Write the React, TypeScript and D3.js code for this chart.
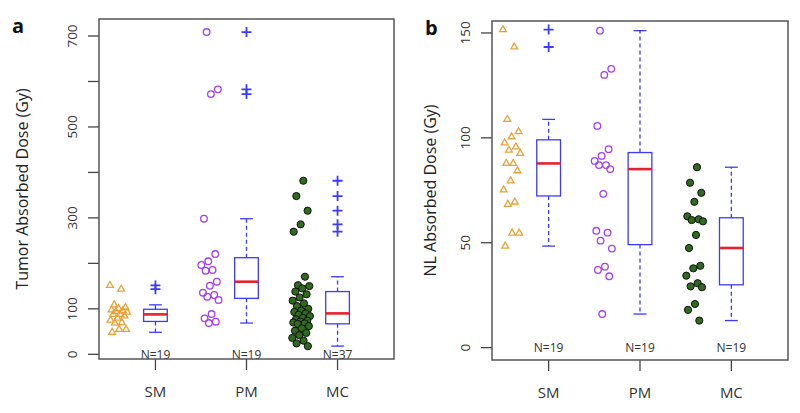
import React from 'react';
import * as d3 from 'd3';

const categories = ['SM', 'PM', 'MC'];

// panel a: tumor absorbed dose (Gy)
const tumorSM = [151.6, 143.3, 108.8, 102.9, 100.5, 97.6, 95.7, 94.1, 92.6, 87.8, 87.8, 84.3, 79.5, 75.2, 69.4, 68.3, 54.6, 54.6, 48.4];
const tumorPM = [708.7, 582.7, 572.3, 298.2, 220.5, 204.5, 196.4, 185.4, 183.9, 159.7, 150.8, 135.5, 130.4, 126.7, 119.4, 88.6, 79.1, 71.7, 68.8];
const tumorMC = [381.7, 348, 315.8, 285.8, 269.6, 170.6, 152, 150, 145, 138, 132, 125, 118, 112, 106, 100, 96, 93, 90, 87, 84, 80, 77, 74, 72, 70, 68, 67, 62, 57, 52, 47, 42, 36, 30, 24, 18];

// panel b: normal liver absorbed dose (Gy)
const nlSM = [151.6, 143.3, 108.8, 102.9, 100.5, 97.6, 95.7, 94.1, 92.6, 87.8, 87.8, 84.3, 79.5, 75.2, 69.4, 68.3, 54.6, 54.6, 48.4];
const nlPM = [151.1, 132.9, 130.0, 105.7, 94.6, 91.4, 89.0, 87.0, 87.0, 85.1, 73.3, 55.7, 54.8, 51.0, 47.2, 38.6, 37.0, 34.0, 16.0];
const nlMC = [86.0, 78.6, 73.8, 69.5, 62.6, 61.2, 60.8, 60.2, 53.7, 47.5, 39.0, 37.8, 34.3, 30.7, 29.2, 28.8, 20.8, 18.0, 12.9];

const tumorTicks = [0, 100, 200, 300, 400, 500, 600, 700];
const tumorTickLabels = [0, 100, 300, 500, 700];
const nlTicks = [0, 50, 100, 150];
const nlTickLabels = [0, 50, 100, 150];

const FONT = "'Open Sans', 'DejaVu Sans', sans-serif";
const BLUE = '#3b3bff';
const RED = '#e8212a';
const ORANGE = '#e8a23a';
const PURPLE = '#a43cf5';
const GREEN = '#2f6a1e';

// Tukey five-number summary, same as R's fivenum()
function fivenum(values: number[]) {
  const s = values.slice().sort((a, b) => a - b);
  const n = s.length;
  const n4 = Math.floor((n + 3) / 2) / 2;
  const d = [1, n4, (n + 1) / 2, n + 1 - n4, n];
  return d.map(i => 0.5 * (s[Math.floor(i) - 1] + s[Math.ceil(i) - 1]));
}

function boxStats(values: number[]) {
  const [, q1, med, q3] = fivenum(values);
  const iqr = q3 - q1;
  const lo = q1 - 1.5 * iqr;
  const hi = q3 + 1.5 * iqr;
  const inside = values.filter(v => v >= lo && v <= hi);
  return {
    q1, med, q3,
    wLo: d3.min(inside) as number,
    wHi: d3.max(inside) as number,
    out: values.filter(v => v < lo || v > hi),
  };
}

type PanelProps = {
  letter: string;
  letterX: number;
  title: string;
  titleX: number;
  groups: number[][];
  ticks: number[];
  tickLabels: number[];
  domain: [number, number];
  left: number;
  top: number;
  right: number;
  bottom: number;
};

const shapes = ['triangle', 'open', 'filled'];

function Panel({ letter, letterX, title, titleX, groups, ticks, tickLabels, domain, left, top, right, bottom }: PanelProps) {
  const x = d3.scaleLinear().domain([0.38, 3.62]).range([left, right]);
  const y = d3.scaleLinear().domain(domain).range([bottom, top]);
  const boxW = 0.13;
  const capW = 0.07;
  const tri = d3.symbol(d3.symbolTriangle, 20)() as string;

  return (
    <g>
      <text x={letterX} y={top + 14} fontFamily={FONT} fontWeight="bold" fontSize={20} fill="#111">{letter}</text>

      {groups.map((vals, gi) => {
        const c = gi + 1;
        const st = boxStats(vals);
        const cx = x(c);
        return (
          <g key={gi}>
            {/* jittered raw points */}
            {vals.map((v, i) => {
              const jit = (((i * 0.618034 + gi * 0.31) % 1) - 0.5) * 0.2;
              const px = x(c - 0.4 + jit);
              const py = y(v);
              if (shapes[gi] === 'triangle') {
                return <path key={i} d={tri} transform={`translate(${px},${py})`} fill="none" stroke={ORANGE} strokeWidth={1.3} />;
              }
              if (shapes[gi] === 'open') {
                return <circle key={i} cx={px} cy={py} r={3.3} fill="none" stroke={PURPLE} strokeWidth={1.3} />;
              }
              return <circle key={i} cx={px} cy={py} r={3.6} fill={GREEN} stroke="#111" strokeWidth={1} />;
            })}

            {/* whiskers */}
            <line x1={cx} x2={cx} y1={y(st.q3)} y2={y(st.wHi)} stroke={BLUE} strokeWidth={1.3} strokeDasharray="4,3" />
            <line x1={cx} x2={cx} y1={y(st.q1)} y2={y(st.wLo)} stroke={BLUE} strokeWidth={1.3} strokeDasharray="4,3" />
            <line x1={x(c - capW)} x2={x(c + capW)} y1={y(st.wHi)} y2={y(st.wHi)} stroke={BLUE} strokeWidth={1.3} />
            <line x1={x(c - capW)} x2={x(c + capW)} y1={y(st.wLo)} y2={y(st.wLo)} stroke={BLUE} strokeWidth={1.3} />

            {/* box */}
            <rect x={x(c - boxW)} y={y(st.q3)} width={x(c + boxW) - x(c - boxW)} height={y(st.q1) - y(st.q3)} fill="none" stroke={BLUE} strokeWidth={1.3} />
            <line x1={x(c - boxW)} x2={x(c + boxW)} y1={y(st.med)} y2={y(st.med)} stroke={RED} strokeWidth={2.6} />

            {/* outliers */}
            {st.out.map((v, i) => (
              <path key={i} d="M-5,0H5M0,-5V5" transform={`translate(${cx},${y(v)})`} stroke={BLUE} strokeWidth={1.8} />
            ))}

            <text x={cx} y={y(0)} dy="0.35em" textAnchor="middle" fontFamily={FONT} fontSize={12} fill="#333">{`N=${vals.length}`}</text>

            {/* x tick and label */}
            <line x1={cx} x2={cx} y1={bottom} y2={bottom + 11} stroke="#444" strokeWidth={1.3} />
            <text x={cx} y={bottom + 38} textAnchor="middle" fontFamily={FONT} fontSize={15} fill="#333">{categories[gi]}</text>
          </g>
        );
      })}

      {/* y axis */}
      {ticks.map(t => (
        <line key={t} x1={left - 11} x2={left} y1={y(t)} y2={y(t)} stroke="#444" strokeWidth={1.3} />
      ))}
      {tickLabels.map(t => (
        <text key={t} transform={`translate(${left - 27},${y(t)}) rotate(-90)`} textAnchor="middle" fontFamily={FONT} fontSize={13.5} fill="#333" dy="0.35em">{t}</text>
      ))}
      <text transform={`translate(${titleX},${(top + bottom) / 2}) rotate(-90)`} textAnchor="middle" fontFamily={FONT} fontSize={16} fill="#222" dy="0.35em">{title}</text>

      <rect x={left} y={top} width={right - left} height={bottom - top} fill="none" stroke="#555" strokeWidth={1.5} />
    </g>
  );
}

export default function App() {
  return (
    <svg width={800} height={413} style={{ position: 'absolute', left: 0, top: 0, background: '#fff' }}>
      <Panel
        letter="a"
        letterX={12}
        title="Tumor Absorbed Dose (Gy)"
        titleX={22}
        groups={[tumorSM, tumorPM, tumorMC]}
        ticks={tumorTicks}
        tickLabels={tumorTickLabels}
        domain={[-10.3, 737.4]}
        left={99}
        top={19}
        right={394}
        bottom={359}
      />
      <Panel
        letter="b"
        letterX={425}
        title="NL Absorbed Dose (Gy)"
        titleX={430}
        groups={[nlSM, nlPM, nlMC]}
        ticks={nlTicks}
        tickLabels={nlTickLabels}
        domain={[-5.9, 155.7]}
        left={492}
        top={21}
        right={788}
        bottom={360}
      />
    </svg>
  );
}
